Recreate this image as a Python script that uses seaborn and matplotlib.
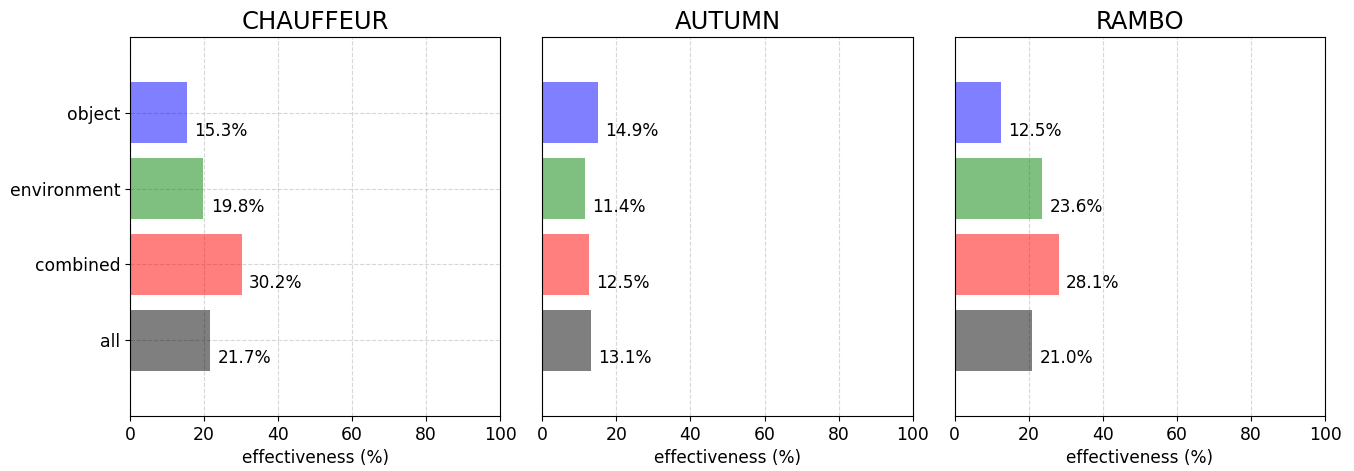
import pandas as pd
import seaborn as sns
import matplotlib.pyplot as plt

categories = ["object", "environment", "combined", "all"]
colors = ["blue", "green", "red", "black"]

models = ["CHAUFFEUR", "AUTUMN", "RAMBO"]
chauffeur = [15.3, 19.8, 30.2, 21.7]
autumn = [14.9, 11.4, 12.5, 13.1]
rambo = [12.5, 23.6, 28.1, 21.0]

values = {"CHAUFFEUR": chauffeur, "AUTUMN": autumn, "RAMBO": rambo}

plt.rcParams["font.family"] = ["DejaVu Sans"]

fig, axes = plt.subplots(1, 3, figsize=(13.54, 4.71), dpi=100, sharey=True)
fig.subplots_adjust(left=0.096, right=0.9786, top=0.9214, bottom=0.1168, wspace=0.1135)

for i, (ax, model) in enumerate(zip(axes, models)):
    df = pd.DataFrame({"category": categories, "value": values[model]})
    sns.barplot(
        data=df,
        x="value",
        y="category",
        hue="category",
        palette=colors,
        order=categories,
        hue_order=categories,
        alpha=0.5,
        saturation=1,
        width=0.8,
        linewidth=0,
        legend=False,
        ax=ax,
    )
    for j, v in enumerate(values[model]):
        ax.text(v + 2, j + 0.24, f"{v:.1f}%", va="center", ha="left", fontsize=12.2)

    ax.set_xlim(0, 100)
    ax.set_ylim(4, -1)
    ax.set_title(model, fontsize=17.5)
    ax.set_xlabel("effectiveness (%)", fontsize=12.2)
    ax.set_ylabel("")
    ax.tick_params(axis="both", labelsize=12.4, left=(i == 0))
    ax.set_axisbelow(True)
    if i == 0:
        ax.grid(True, linestyle="--", alpha=0.5)
    else:
        ax.grid(True, axis="x", linestyle="--", alpha=0.5)
        ax.grid(False, axis="y")

plt.savefig("out.png", dpi=100)
